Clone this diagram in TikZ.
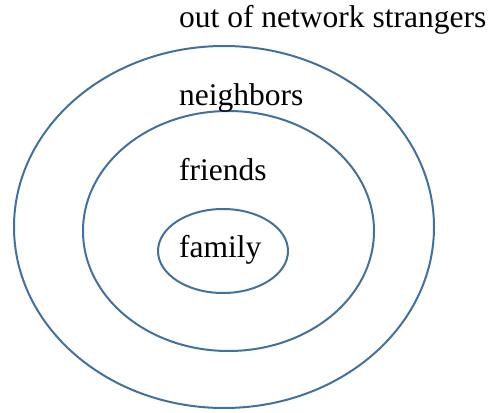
\documentclass[tikz,border=0pt]{standalone}
\usepackage{fontspec}
\setmainfont{Liberation Serif}
\definecolor{ringblue}{HTML}{41719C}
\begin{document}
\begin{tikzpicture}[x=1pt,y=-1pt,
  ring/.style={draw=ringblue,line width=2pt},
  lbl/.style={anchor=base west,inner sep=0pt,font=\fontsize{31.5}{36}\selectfont}]
\useasboundingbox (0,0) rectangle (492,412);
\draw[ring] (224,227) ellipse [x radius=210,y radius=181];
\draw[ring] (228.5,231) ellipse [x radius=145.5,y radius=120];
\draw[ring] (223,251) ellipse [x radius=65,y radius=42];
\node[lbl] (strangers) at (179,28) {out of network strangers};
\node[lbl] (neighbors) at (179,105) {neighbors};
\node[lbl] (friends) at (179,180) {friends};
\node[lbl] (family) at (179,257) {family};
\end{tikzpicture}
\end{document}
